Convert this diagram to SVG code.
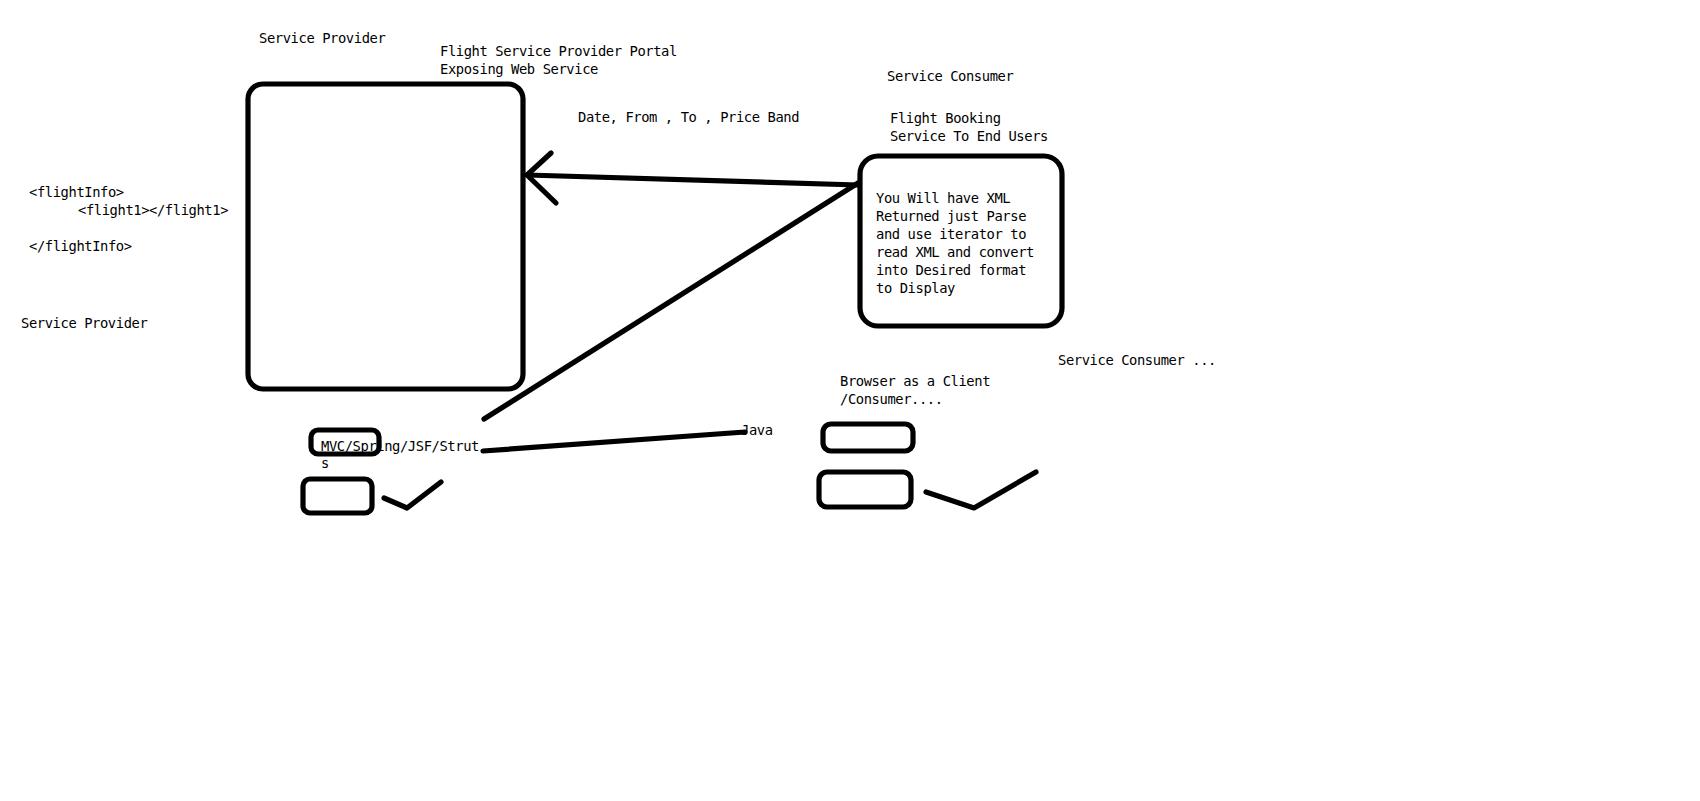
<svg xmlns="http://www.w3.org/2000/svg" width="1700" height="801" viewBox="0 0 1700 801">
<style>
.t{font-family:"DejaVu Sans Mono","Liberation Mono",monospace;font-size:13.8px;letter-spacing:-0.41px;fill:#000}
.b{fill:none;stroke:#000;stroke-width:5.2}
.c{fill:none;stroke:#000;stroke-width:5.2;stroke-linecap:round;stroke-linejoin:round}
</style>
<rect width="1700" height="801" fill="#fff"/>
<g id="labels">
<text class="t" x="259" y="43">Service Provider</text>
<text class="t" x="440" y="56">Flight Service Provider Portal</text>
<text class="t" x="440" y="74">Exposing Web Service</text>
<text class="t" x="578" y="122">Date, From , To , Price Band</text>
<text class="t" x="29" y="197">&lt;flightInfo&gt;</text>
<text class="t" x="78" y="215">&lt;flight1&gt;&lt;/flight1&gt;</text>
<text class="t" x="29" y="251">&lt;/flightInfo&gt;</text>
<text class="t" x="21" y="328">Service Provider</text>
<text class="t" x="887" y="81">Service Consumer</text>
<text class="t" x="890" y="123">Flight Booking</text>
<text class="t" x="890" y="141">Service To End Users</text>
<text class="t" x="1058" y="365">Service Consumer ...</text>
<text class="t" x="840" y="386">Browser as a Client</text>
<text class="t" x="840" y="404">/Consumer....</text>
<text class="t" x="741" y="435">Java</text>
</g>
<g id="provider">
<rect class="b" x="248" y="84" width="275" height="305" rx="15"/>
</g>
<g id="consumer">
<rect class="b" x="860" y="156" width="202" height="170" rx="18"/>
<text class="t" x="876" y="203">You Will have XML</text>
<text class="t" x="876" y="221">Returned just Parse</text>
<text class="t" x="876" y="239">and use iterator to</text>
<text class="t" x="876" y="257">read XML and convert</text>
<text class="t" x="876" y="275">into Desired format</text>
<text class="t" x="876" y="293">to Display</text>
</g>
<g id="frameworks">
<rect class="b" x="311" y="430" width="68" height="24" rx="7"/>
<text class="t" x="321" y="451">MVC/Spring/JSF/Strut</text>
<text class="t" x="321" y="468">s</text>
</g>
<g id="left-box">
<rect class="b" x="303" y="479" width="69" height="34" rx="7"/>
<polyline class="c" points="384,498 407,508 441,482"/>
</g>
<g id="browser-top">
<rect class="b" x="823" y="424" width="90" height="27" rx="8"/>
</g>
<g id="browser-bottom">
<rect class="b" x="819" y="472" width="92" height="35" rx="8"/>
<polyline class="c" points="926,492 974,508 1036,472"/>
</g>
<g id="connectors">
<line class="c" x1="858" y1="185" x2="527" y2="175"/>
<polyline class="c" points="551,153 527,175 556,203"/>
<line class="c" x1="858" y1="183" x2="484" y2="419"/>
<line class="c" x1="483" y1="451" x2="745" y2="432"/>
</g>
</svg>
